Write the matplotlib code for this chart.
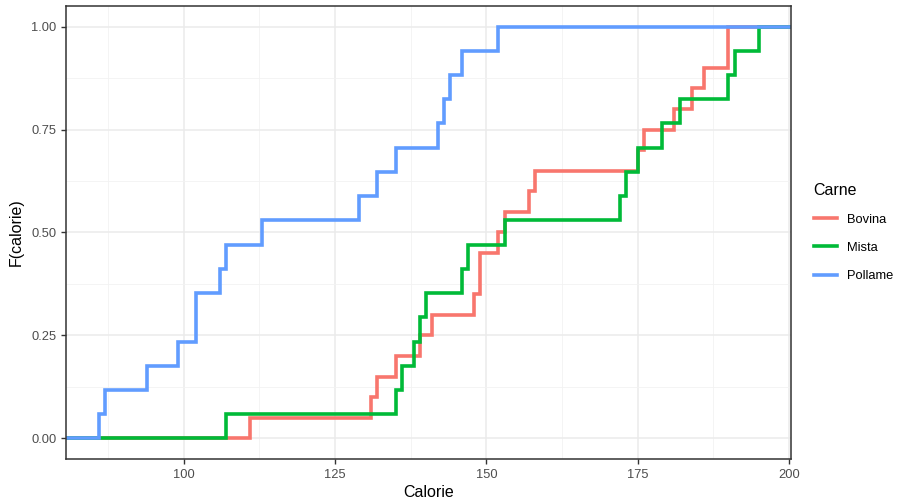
import numpy as np
import matplotlib
matplotlib.use("Agg")
import matplotlib.pyplot as plt

groups = ["Bovina", "Mista", "Pollame"]
bovina = [186, 181, 176, 149, 184, 190, 158, 139, 175, 148, 152, 111, 141, 153, 190, 157, 131, 149, 135, 132]
mista = [173, 191, 182, 190, 172, 147, 146, 139, 175, 136, 179, 153, 107, 195, 135, 140, 138]
pollame = [129, 132, 102, 106, 94, 102, 87, 99, 107, 113, 135, 142, 86, 143, 152, 146, 144]
colors = ["#F8766D", "#00BA38", "#619CFF"]
x_ticks = [100, 125, 150, 175, 200]
y_ticks = [0.0, 0.25, 0.5, 0.75, 1.0]

xlim = (80.55, 200.33)

plt.rcParams["font.family"] = ["Liberation Sans", "DejaVu Sans"]
fig = plt.figure(figsize=(9.05, 5), dpi=100)
ax = fig.add_axes([66 / 905, 41 / 500, 725 / 905, 453 / 500])

for name, vals, col in zip(groups, [bovina, mista, pollame], colors):
    xs = np.sort(np.array(vals, dtype=float))
    n = len(xs)
    x = np.concatenate([[xlim[0] - 5], xs, [xlim[1] + 5]])
    y = np.concatenate([[0], np.arange(1, n + 1) / n, [1]])
    ax.step(x, y, where="post", color=col, lw=2.6, label=name, solid_joinstyle="miter")

ax.set_xlim(*xlim)
ax.set_ylim(-0.05, 1.05)
ax.set_xticks(x_ticks)
ax.set_xticks([87.5, 112.5, 137.5, 162.5, 187.5], minor=True)
ax.set_yticks(y_ticks)
ax.set_yticks([0.125, 0.375, 0.625, 0.875], minor=True)
ax.set_yticklabels(["0.00", "0.25", "0.50", "0.75", "1.00"])
ax.grid(which="major", color="#EBEBEB", lw=1.1)
ax.grid(which="minor", color="#F2F2F2", lw=0.6)
ax.set_axisbelow(True)
for s in ax.spines.values():
    s.set_color("#333333")
    s.set_linewidth(1.1)
ax.tick_params(which="major", length=3.5, color="#333333", labelsize=9.3, labelcolor="#4D4D4D", width=1)
ax.tick_params(which="minor", length=0)
ax.set_xlabel("Calorie", fontsize=11.5, labelpad=3)
ax.set_ylabel("F(calorie)", fontsize=11.5, labelpad=5)

leg = fig.legend(loc="upper left", bbox_to_anchor=(802 / 905, 1 - 171 / 500), frameon=False,
                 title="Carne", fontsize=9.3, title_fontsize=11.5, handlelength=1.8,
                 labelspacing=1.25, alignment="left")
for h in leg.get_lines():
    h.set_linewidth(2.6)

fig.savefig("out.png", dpi=100)
